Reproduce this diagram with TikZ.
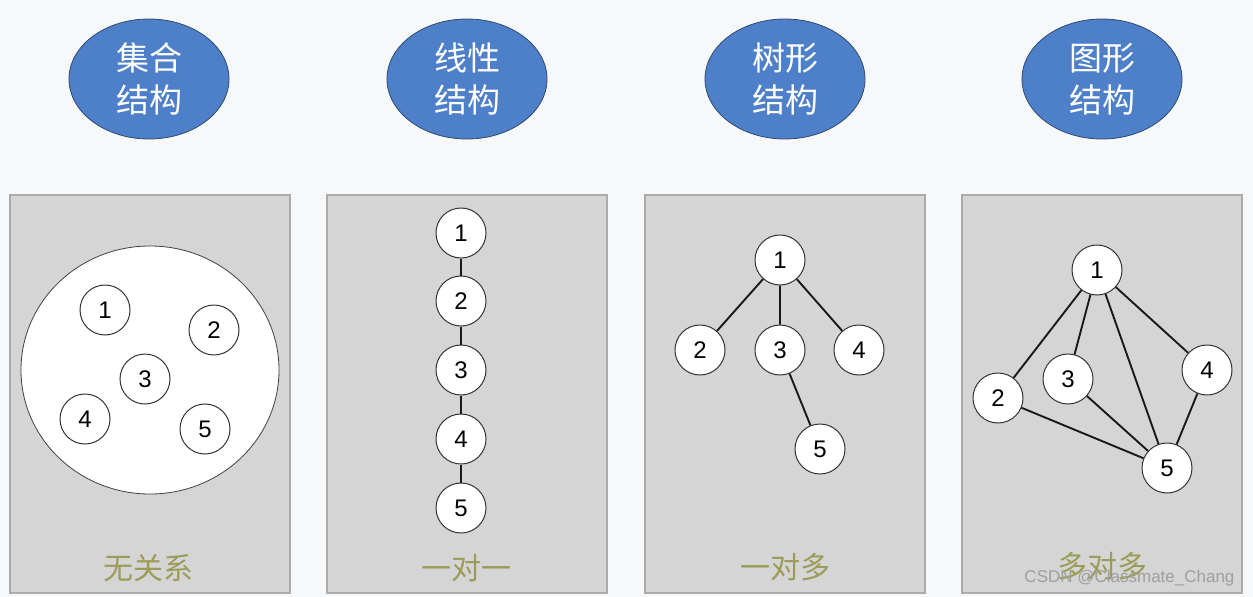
\documentclass[tikz,border=0pt]{standalone}
\usepackage{fontspec}
\usetikzlibrary{shapes.geometric}
\setmainfont{Liberation Sans}
\newfontfamily\cjk{Noto Sans CJK SC}
\definecolor{bgc}{HTML}{F7F8F9}
\definecolor{panelc}{HTML}{D5D5D5}
\definecolor{panelb}{HTML}{ABABAB}
\definecolor{ovalc}{HTML}{4D80C8}
\definecolor{ovalb}{HTML}{2E4A70}
\definecolor{labelc}{HTML}{9C9C58}
\begin{document}
\begin{tikzpicture}[x=1pt,y=-1pt,
  panel/.style={draw=panelb,fill=panelc,line width=1.2pt},
  oval/.style={ellipse,draw=ovalb,fill=ovalc,line width=0.8pt,minimum width=160pt,minimum height=120pt,inner sep=0pt,text=white,font=\cjk\fontsize{33}{42}\selectfont,align=center},
  num/.style={circle,draw=black!80,fill=white,line width=1pt,minimum size=50pt,inner sep=0pt,font=\fontsize{24}{24}\selectfont},
  lbl/.style={text=labelc,font=\cjk\fontsize{30}{30}\selectfont},
  edge/.style={line width=1.9pt,black!90}]
\fill[bgc] (0,0) rectangle (1253,597);
\useasboundingbox (0,0) rectangle (1253,597);
% ovals
\node[oval] (o1) at (149,79) {集合\\结构};
\node[oval] (o2) at (467,79) {线性\\结构};
\node[oval] (o3) at (785,79) {树形\\结构};
\node[oval] (o4) at (1102,79) {图形\\结构};
% panels
\draw[panel] (10,195) rectangle (290,593);
\draw[panel] (327,195) rectangle (607,593);
\draw[panel] (645,195) rectangle (925,593);
\draw[panel] (962,195) rectangle (1242,593);
% panel 1
\node[ellipse,draw=black!75,fill=white,line width=0.8pt,minimum width=258pt,minimum height=248pt,inner sep=0pt] (set) at (150,370) {};
\node[num] (a1) at (105,310) {1};
\node[num] (a2) at (214,330) {2};
\node[num] (a3) at (145,379) {3};
\node[num] (a4) at (85,419) {4};
\node[num] (a5) at (205,429) {5};
\node[lbl] (l1) at (148,568) {无关系};
% panel 2
\node[num] (b1) at (461,233) {1};
\node[num] (b2) at (461,301) {2};
\node[num] (b3) at (461,370) {3};
\node[num] (b4) at (461,439) {4};
\node[num] (b5) at (461,508) {5};
\draw[edge] (b1)--(b2) (b2)--(b3) (b3)--(b4) (b4)--(b5);
\node[lbl] (l2) at (466,568) {一对一};
% panel 3
\node[num] (c1) at (780,260) {1};
\node[num] (c2) at (700,350) {2};
\node[num] (c3) at (780,350) {3};
\node[num] (c4) at (859,350) {4};
\node[num] (c5) at (820,449) {5};
\draw[edge] (c1)--(c2) (c1)--(c3) (c1)--(c4) (c3)--(c5);
\node[lbl] (l3) at (785,567) {一对多};
% panel 4
\node[num] (d1) at (1097,270) {1};
\node[num] (d2) at (998,398) {2};
\node[num] (d3) at (1068,379) {3};
\node[num] (d4) at (1207,370) {4};
\node[num] (d5) at (1167,468) {5};
\draw[edge] (d1)--(d2) (d1)--(d3) (d1)--(d5) (d1)--(d4) (d3)--(d5) (d2)--(d5) (d4)--(d5);
\node[lbl] (l4) at (1102,566) {多对多};
\node[text=gray!75,font=\fontsize{17}{17}\selectfont,anchor=east] (wm) at (1238,578) {CSDN @Classmate\_Chang};
\end{tikzpicture}
\end{document}
